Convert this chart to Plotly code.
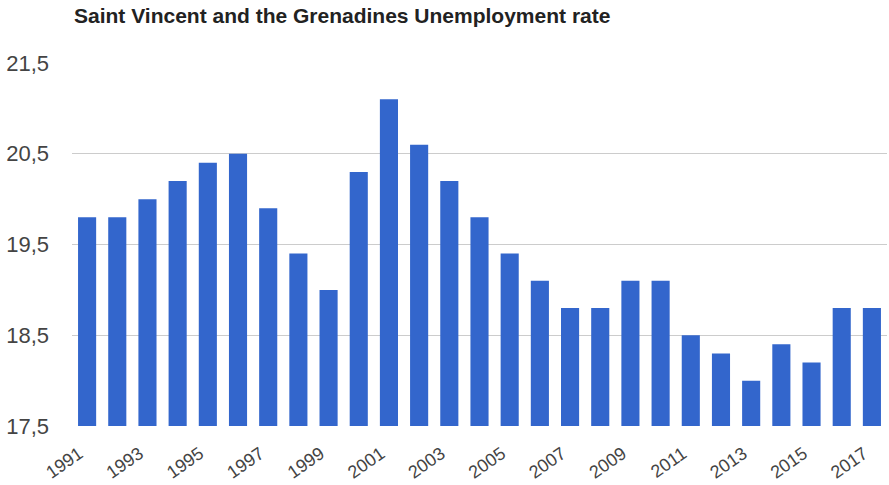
import plotly.graph_objects as go

years = [str(y) for y in range(1991, 2018)]
rates = [19.8, 19.8, 20.0, 20.2, 20.4, 20.5, 19.9, 19.4, 19.0, 20.3, 21.1, 20.6, 20.2, 19.8,
         19.4, 19.1, 18.8, 18.8, 19.1, 19.1, 18.5, 18.3, 18.0, 18.4, 18.2, 18.8, 18.8]
y_ticks = [17.5, 18.5, 19.5, 20.5, 21.5]
x_ticks = years[::2]

fig = go.Figure(go.Bar(x=years, y=rates, marker_color="#3366CC", marker_line_width=0))

fig.update_layout(
    width=889, height=485,
    margin=dict(l=72, r=2, t=63, b=59, autoexpand=False),
    paper_bgcolor="white", plot_bgcolor="white",
    separators=",.",
    bargap=0.4,
    showlegend=False,
    font=dict(family="Liberation Sans, Arial, sans-serif", color="#444"),
    title=dict(text="<b>Saint Vincent and the Grenadines Unemployment rate</b>",
               x=74/889, xanchor="left", y=1-16/485, yanchor="middle",
               font=dict(size=21, color="#222")),
)
fig.update_yaxes(range=[17.5, 21.5], tickvals=y_ticks, tickformat=".1f", automargin=False,
                 showgrid=True, gridcolor="#cccccc", gridwidth=1, zeroline=False,
                 showline=False, ticks="", tickfont=dict(size=22, color="#444"), ticklabelstandoff=22)
fig.update_xaxes(type="category", tickvals=x_ticks, tickangle=-35, showgrid=False, automargin=False,
                 showline=False, ticks="", tickfont=dict(size=18, color="#444"),
                 ticklabelstandoff=13, ticklabelshift=-8)

fig.write_html("out.html")
